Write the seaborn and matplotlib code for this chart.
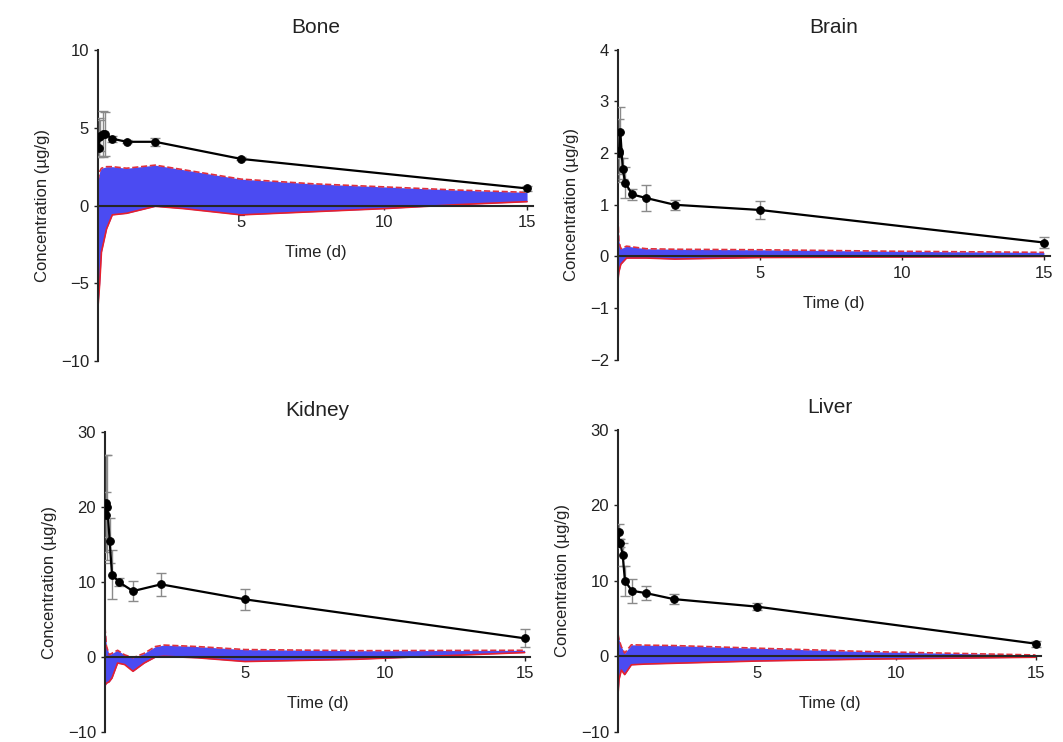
import numpy as np
import pandas as pd
import seaborn as sns
import matplotlib.pyplot as plt

# observed sampling times (d)
times = [0.02, 0.042, 0.083, 0.167, 0.25, 0.5, 1, 2, 5, 15]

bone_mean = [3.7, 4.4, 4.5, 4.6, 4.6, 4.3, 4.1, 4.1, 3.0, 1.1]
bone_sd = [0.6, 1.2, 1.0, 1.5, 1.4, 0.2, 0.1, 0.25, 0.1, 0.15]
brain_mean = [2.0, 2.05, 2.4, 1.7, 1.43, 1.2, 1.13, 1.0, 0.9, 0.27]
brain_sd = [0.4, 0.6, 0.5, 0.2, 0.3, 0.1, 0.25, 0.1, 0.18, 0.1]
kidney_mean = [19.0, 20.5, 20.0, 15.5, 11.0, 10.0, 8.8, 9.7, 7.7, 2.5]
kidney_sd = [3.0, 6.5, 7.0, 3.0, 3.3, 0.5, 1.3, 1.5, 1.4, 1.2]
liver_mean = [16.5, 15.0, 15.0, 13.5, 10.0, 8.7, 8.4, 7.6, 6.6, 1.7]
liver_sd = [1.0, 0.5, 0.5, 1.5, 2.0, 1.6, 0.9, 0.7, 0.5, 0.4]

# simulated prediction band (upper / lower)
bone_bt = [0, 0.06, 0.12, 0.3, 0.5, 1, 2, 3, 5, 7.5, 10, 12.5, 15]
bone_hi = [1.6, 2.2, 2.4, 2.5, 2.5, 2.4, 2.6, 2.3, 1.7, 1.4, 1.2, 1.0, 0.85]
bone_lo = [-6.5, -5.0, -3.0, -1.5, -0.6, -0.5, -0.05, -0.2, -0.6, -0.4, -0.2, 0.05, 0.25]

brain_bt = [0, 0.03, 0.1, 0.3, 1, 2, 5, 10, 15]
brain_hi = [0.75, 0.3, 0.15, 0.2, 0.15, 0.14, 0.13, 0.1, 0.08]
brain_lo = [-0.45, -0.3, -0.15, -0.03, -0.03, -0.05, -0.02, -0.01, 0.0]

kidney_bt = [0, 0.05, 0.15, 0.25, 0.45, 0.7, 1.0, 1.4, 1.8, 2.1, 3.3, 5, 9, 15]
kidney_hi = [4.0, 1.5, 0.3, 0.5, 0.9, 0.3, -0.1, 0.5, 1.4, 1.6, 1.4, 1.0, 0.85, 0.9]
kidney_lo = [-3.8, -3.5, -3.3, -2.8, -0.8, -1.0, -1.9, -0.8, 0.0, 0.1, -0.1, -0.6, -0.3, 0.6]

liver_bt = [0, 0.04, 0.12, 0.24, 0.48, 1, 2, 5, 9, 15]
liver_hi = [3.0, 2.2, 1.3, 0.45, 1.55, 1.5, 1.45, 1.1, 0.65, 0.2]
liver_lo = [-5.0, -3.0, -1.8, -2.4, -1.1, -1.0, -0.9, -0.6, -0.35, -0.1]

panels = [
    ('Bone', bone_mean, bone_sd, bone_bt, bone_hi, bone_lo, (-10, 10), [-10, -5, 0, 5, 10],
     [98 / 1063, 0.5135, 0.409, 0.419]),
    ('Brain', brain_mean, brain_sd, brain_bt, brain_hi, brain_lo, (-2, 4), [-2, -1, 0, 1, 2, 3, 4],
     [618 / 1063, 0.515, 0.406, 0.418]),
    ('Kidney', kidney_mean, kidney_sd, kidney_bt, kidney_hi, kidney_lo, (-10, 30), [-10, 0, 10, 20, 30],
     [105 / 1063, 0.0135, 0.40, 0.404]),
    ('Liver', liver_mean, liver_sd, liver_bt, liver_hi, liver_lo, (-10, 30), [-10, 0, 10, 20, 30],
     [618 / 1063, 0.0135, 0.398, 0.407]),
]

sns.set_style('ticks')
plt.rcParams['font.family'] = ['Liberation Sans', 'DejaVu Sans']

fig = plt.figure(figsize=(10.63, 7.42), dpi=100)

for name, mean, sd, bt, hi, lo, ylim, yticks, pos in panels:
    ax = fig.add_axes(pos)

    # prediction band
    ax.fill_between(bt, lo, hi, color='#4b4bf2', lw=0, zorder=1)
    sns.lineplot(x=bt, y=hi, ax=ax, color='#e0303c', lw=1.2, ls='--', zorder=2)
    sns.lineplot(x=bt, y=lo, ax=ax, color='#e8202c', lw=1.2, zorder=2)

    # observed data
    ax.errorbar(times, mean, yerr=sd, fmt='none', ecolor='#8a8a8a', elinewidth=1,
                capsize=3.5, capthick=1, zorder=3)
    df = pd.DataFrame({'t': times, 'c': mean})
    sns.lineplot(data=df, x='t', y='c', ax=ax, color='black', lw=1.6,
                 marker='o', markersize=5.5, markeredgecolor='black', zorder=4)

    ax.set_xlim(0, 15.2)
    ax.set_ylim(*ylim)
    ax.set_yticks(yticks)
    ax.set_xticks([5, 10, 15])
    ax.spines['left'].set_position(('data', 0))
    ax.spines['bottom'].set_position(('data', 0))
    ax.spines['bottom'].set_zorder(5)
    ax.spines['left'].set_linewidth(1.5)
    ax.spines['bottom'].set_linewidth(1.5)
    ax.spines['top'].set_visible(False)
    ax.spines['right'].set_visible(False)
    ax.tick_params(axis='both', labelsize=12, colors='#222222', length=3, width=1)
    ax.set_xlabel('Time (d)', fontsize=12, color='#222222', labelpad=11)
    ax.set_ylabel('Concentration (µg/g)', fontsize=12, color='#222222', labelpad=8)
    ax.set_title(name, fontsize=15, color='#222222', pad=12)

plt.savefig('out.png', dpi=100)
